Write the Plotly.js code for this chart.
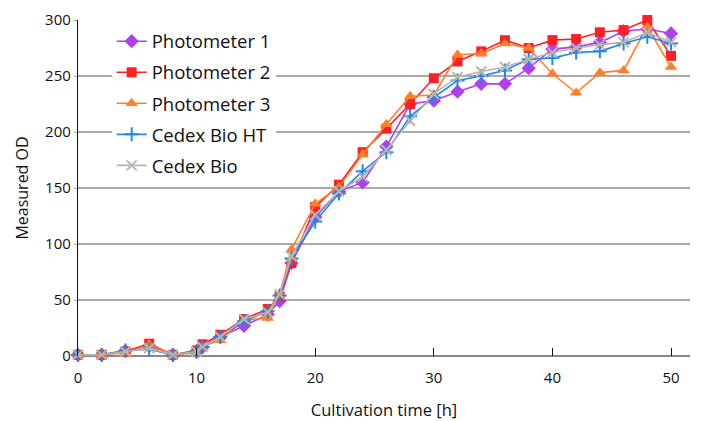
<!DOCTYPE html>
<html>
<head>
<meta charset="utf-8">
<script src="https://cdn.plot.ly/plotly-3.0.1.min.js"></script>
<style>html,body{margin:0;padding:0;background:#fff;}#chart{width:702px;height:421px;}</style>
</head>
<body>
<div id="chart"></div>
<script>
const timeH = [0,2,4,6,8,10,10.5,12,14,16,17,18,20,22,24,26,28,30,32,34,36,38,40,42,44,46,48,50];
const photometer1 = [1,1,4.5,9,1,4,8,17,27,37,49,83,124,147,155,187,225,228,236,243,243,257,274,276,280,290,292,288];
const photometer2 = [1,1,4,11,1,5,10.5,19,33,42,53,83,133,153,182,203,225,248,263,272,282,275,282,283,289,291,300,268];
const photometer3 = [1,1,3,10,1,3,9,14,32,34,55,95,136,151,180,207,232,233,269,270,279,275,252,235,253,255,294,258];
const cedexBioHT = [1,1,5,6,1,4,8,17,31,40,54,87,120,145,165,182,214,231,246,250,255,265,266,271,272,279,285,279];
const cedexBio = [1,1,4,7,1,4,8,17,33,39,55,89,126,147,160,184,210,234,249,254,258,265,271,275,278,280,289,280];
const seriesNames = ["Photometer 1","Photometer 2","Photometer 3","Cedex Bio HT","Cedex Bio"];
const xTicks = [0,10,20,30,40,50];
const yTicks = [0,50,100,150,200,250,300];

const styles = [
  {color:"#b040ee", symbol:"diamond", size:11},
  {color:"#ff2026", symbol:"square", size:10},
  {color:"#ff7f2a", symbol:"triangle-up", size:11},
  {color:"#1f88e8", symbol:"cross-thin", size:10},
  {color:"#b9b4ae", symbol:"x-thin", size:10}
];
const allY = [photometer1, photometer2, photometer3, cedexBioHT, cedexBio];
const traces = allY.map((ys,i)=>{
  const s = styles[i];
  const thin = s.symbol.indexOf("thin")>=0;
  return {
    x: timeH, y: ys, name: seriesNames[i], type:"scatter", mode:"lines+markers",
    legendgroup: "g"+i,
    cliponaxis:false,
    line:{color:s.color, width:1.6},
    marker:{symbol:s.symbol, size:s.size, color:s.color, line:{color:s.color, width: thin?2:0}}
  };
});

const layout = {
  width:702, height:421,
  margin:{l:78, r:12, t:20, b:65},
  paper_bgcolor:"#fff", plot_bgcolor:"#fff",
  font:{family:"'Open Sans', 'DejaVu Sans', sans-serif", size:14, color:"#111"},
  showlegend:true,
  legend:{x:0.055, y:0.992, xanchor:"left", yanchor:"top", bgcolor:"#fff", borderwidth:0,
          font:{size:18.5, color:"#111"}, traceorder:"grouped", tracegroupgap:4, itemwidth:30},
  xaxis:{range:[0,51.6], tickvals:xTicks, ticktext:xTicks.map(String), ticks:"inside", ticklen:8,
         tickcolor:"#111", tickwidth:1, showgrid:false, zeroline:false, showline:false,
         tickfont:{size:15, color:"#111"}, ticklabelstandoff:11,
         title:{text:"Cultivation time [h]", font:{size:16.5, color:"#111"}, standoff:18}},
  yaxis:{range:[0,300], tickvals:yTicks, ticktext:yTicks.map(String), ticks:"outside", ticklen:3,
         tickcolor:"#aaa", showgrid:true, gridcolor:"#aaaaaa", gridwidth:1.5,
         zeroline:true, zerolinecolor:"#888", zerolinewidth:2,
         showline:true, linecolor:"#111", linewidth:1.2,
         tickfont:{size:15, color:"#111"},
         title:{text:"Measured OD", font:{size:16, color:"#111"}, standoff:12}}
};
Plotly.newPlot("chart", traces, layout, {displayModeBar:false, staticPlot:true});
</script>
</body>
</html>
